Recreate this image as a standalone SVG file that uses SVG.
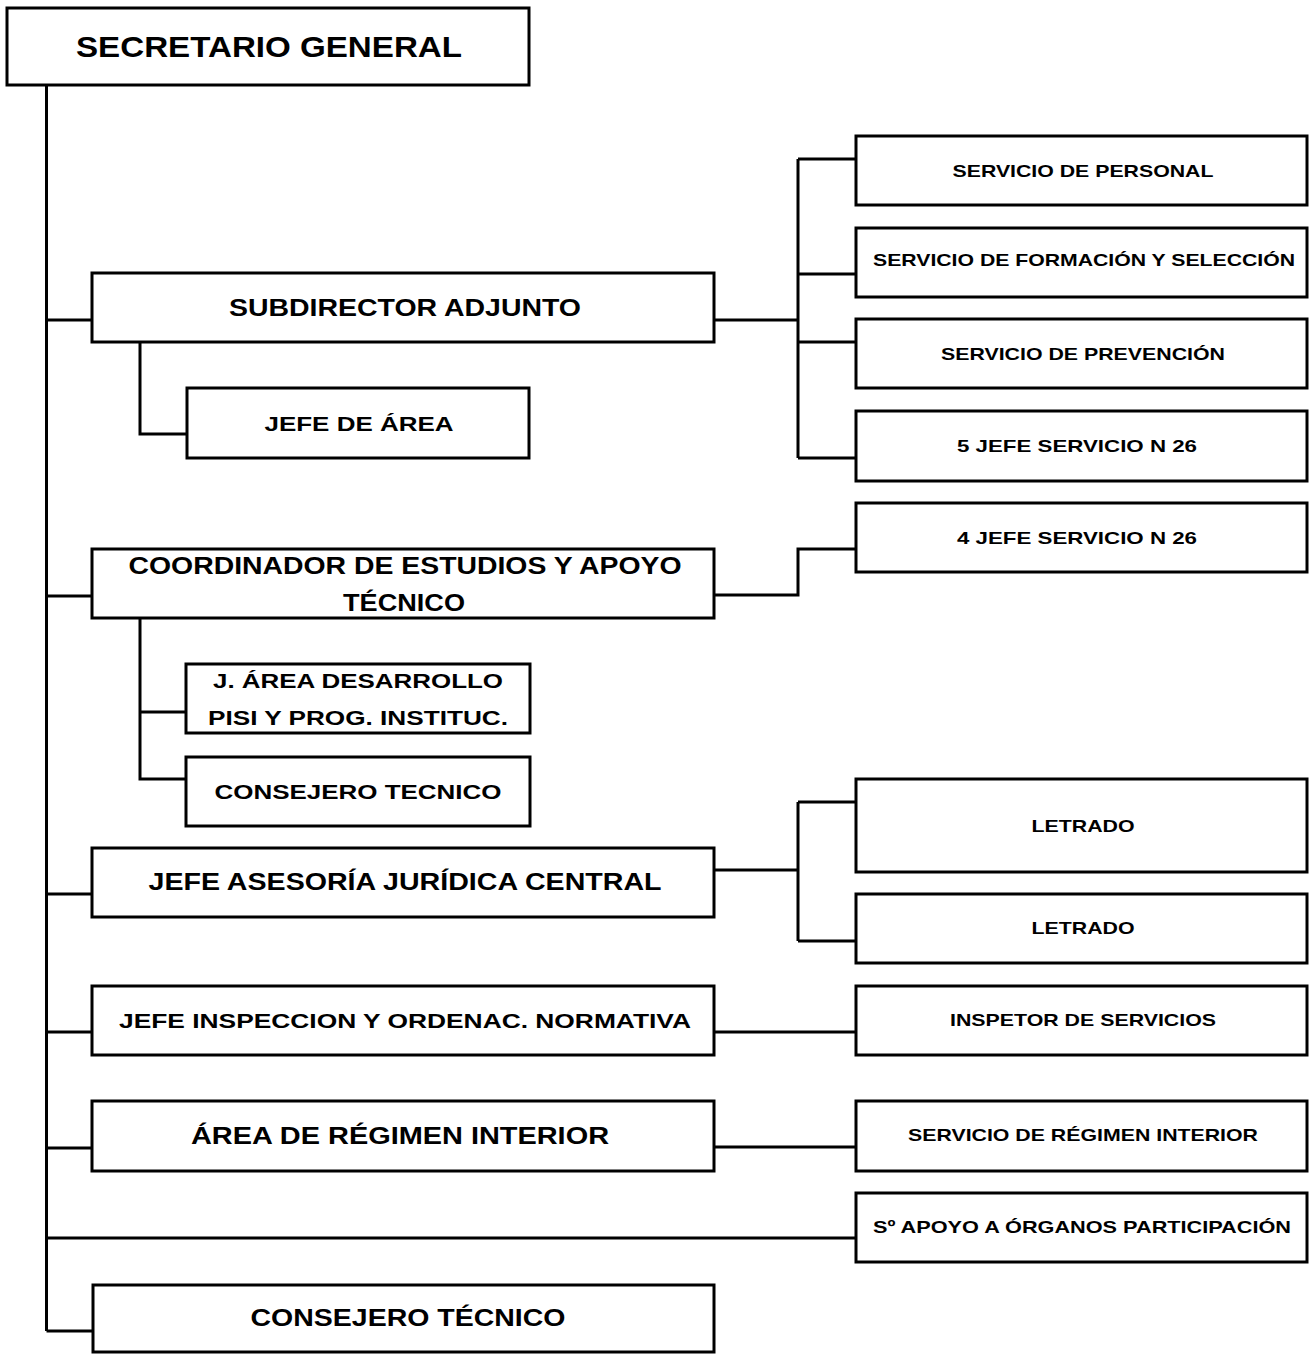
<svg xmlns="http://www.w3.org/2000/svg" width="1309" height="1354" viewBox="0 0 1309 1354">
<style>
.box{fill:#fff;stroke:#000;stroke-width:3}
.ln{fill:none;stroke:#000;stroke-width:3}
text{font-family:"Liberation Sans",Arial,sans-serif;font-weight:bold;fill:#000;text-anchor:middle}
.t30{font-size:30px}
.t23{font-size:23px}
.t21{font-size:21px}
.t17{font-size:17px}
</style>
<rect width="1309" height="1354" fill="#fff"/>
<g id="connectors">
<path class="ln" d="M46.5 84 V1331"/>
<path class="ln" d="M46.5 320 H92 M46.5 596 H92 M46.5 894 H92 M46.5 1032 H92 M46.5 1148 H92 M46.5 1238 H856 M46.5 1331 H93"/>
<path class="ln" d="M140 342 V434 H187"/>
<path class="ln" d="M714 320 H798 M798 159 V458 M798 159 H856 M798 274 H856 M798 342 H856 M798 458 H856"/>
<path class="ln" d="M714 595 H798 V549 H856"/>
<path class="ln" d="M140 618 V779 H186 M140 712 H186"/>
<path class="ln" d="M714 870 H798 M798 802 V941 M798 802 H856 M798 941 H856"/>
<path class="ln" d="M714 1032 H856"/>
<path class="ln" d="M714 1147 H856"/>
</g>
<g id="secretario"><rect class="box" x="7" y="8" width="522" height="77"/><text class="t30" x="269" y="57" textLength="386" lengthAdjust="spacingAndGlyphs">SECRETARIO GENERAL</text></g>
<g id="subdirector"><rect class="box" x="92" y="273" width="622" height="69"/><text class="t23" x="405" y="316" textLength="352" lengthAdjust="spacingAndGlyphs">SUBDIRECTOR ADJUNTO</text></g>
<g id="jefe-area"><rect class="box" x="187" y="388" width="342" height="70"/><text class="t21" x="359" y="430.5" textLength="189" lengthAdjust="spacingAndGlyphs">JEFE DE ÁREA</text></g>
<g id="coordinador"><rect class="box" x="92" y="549" width="622" height="69"/><text class="t23" x="405" y="573.5" textLength="553" lengthAdjust="spacingAndGlyphs">COORDINADOR DE ESTUDIOS Y APOYO</text><text class="t23" x="404" y="611" textLength="122" lengthAdjust="spacingAndGlyphs">TÉCNICO</text></g>
<g id="j-area-desarrollo"><rect class="box" x="186" y="664" width="344" height="69"/><text class="t21" x="358" y="687.5" textLength="290" lengthAdjust="spacingAndGlyphs">J. ÁREA DESARROLLO</text><text class="t21" x="358" y="725" textLength="300" lengthAdjust="spacingAndGlyphs">PISI Y PROG. INSTITUC.</text></g>
<g id="consejero-tecnico-1"><rect class="box" x="186" y="757" width="344" height="69"/><text class="t21" x="358" y="798.5" textLength="287" lengthAdjust="spacingAndGlyphs">CONSEJERO TECNICO</text></g>
<g id="jefe-asesoria"><rect class="box" x="92" y="848" width="622" height="69"/><text class="t23" x="405" y="890" textLength="513" lengthAdjust="spacingAndGlyphs">JEFE ASESORÍA JURÍDICA CENTRAL</text></g>
<g id="jefe-inspeccion"><rect class="box" x="92" y="986" width="622" height="69"/><text class="t21" x="405" y="1027.5" textLength="572" lengthAdjust="spacingAndGlyphs">JEFE INSPECCION Y ORDENAC. NORMATIVA</text></g>
<g id="area-regimen"><rect class="box" x="92" y="1101" width="622" height="70"/><text class="t23" x="400" y="1144" textLength="418" lengthAdjust="spacingAndGlyphs">ÁREA DE RÉGIMEN INTERIOR</text></g>
<g id="consejero-tecnico-2"><rect class="box" x="93" y="1285" width="621" height="67"/><text class="t23" x="408" y="1326" textLength="315" lengthAdjust="spacingAndGlyphs">CONSEJERO TÉCNICO</text></g>
<g id="serv-personal"><rect class="box" x="856" y="136" width="451" height="69"/><text class="t17" x="1083" y="177" textLength="261" lengthAdjust="spacingAndGlyphs">SERVICIO DE PERSONAL</text></g>
<g id="serv-formacion"><rect class="box" x="856" y="228" width="451" height="69"/><text class="t17" x="1084" y="266" textLength="422" lengthAdjust="spacingAndGlyphs">SERVICIO DE FORMACIÓN Y SELECCIÓN</text></g>
<g id="serv-prevencion"><rect class="box" x="856" y="319" width="451" height="69"/><text class="t17" x="1083" y="360" textLength="284" lengthAdjust="spacingAndGlyphs">SERVICIO DE PREVENCIÓN</text></g>
<g id="jefe-servicio-5"><rect class="box" x="856" y="411" width="451" height="70"/><text class="t17" x="1077" y="452" textLength="240" lengthAdjust="spacingAndGlyphs">5 JEFE SERVICIO N 26</text></g>
<g id="jefe-servicio-4"><rect class="box" x="856" y="503" width="451" height="69"/><text class="t17" x="1077" y="544" textLength="240" lengthAdjust="spacingAndGlyphs">4 JEFE SERVICIO N 26</text></g>
<g id="letrado-1"><rect class="box" x="856" y="779" width="451" height="93"/><text class="t17" x="1083" y="832" textLength="103" lengthAdjust="spacingAndGlyphs">LETRADO</text></g>
<g id="letrado-2"><rect class="box" x="856" y="894" width="451" height="69"/><text class="t17" x="1083" y="934" textLength="103" lengthAdjust="spacingAndGlyphs">LETRADO</text></g>
<g id="inspetor"><rect class="box" x="856" y="986" width="451" height="69"/><text class="t17" x="1083" y="1026" textLength="266" lengthAdjust="spacingAndGlyphs">INSPETOR DE SERVICIOS</text></g>
<g id="serv-regimen"><rect class="box" x="856" y="1101" width="451" height="70"/><text class="t17" x="1083" y="1141" textLength="350" lengthAdjust="spacingAndGlyphs">SERVICIO DE RÉGIMEN INTERIOR</text></g>
<g id="apoyo-organos"><rect class="box" x="856" y="1193" width="451" height="69"/><text class="t17" x="1082" y="1233" textLength="418" lengthAdjust="spacingAndGlyphs">Sº APOYO A ÓRGANOS PARTICIPACIÓN</text></g>
</svg>
